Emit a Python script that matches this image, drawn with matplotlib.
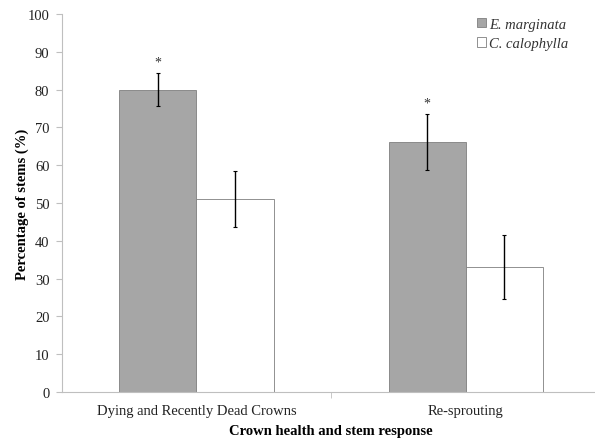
import numpy as np
import matplotlib
matplotlib.use("Agg")
from matplotlib import pyplot as plt

plt.rcParams['font.family'] = ['Liberation Serif', 'DejaVu Serif']

categories = ["Dying and Recently Dead Crowns", "Re-sprouting"]
marginata = [80, 66]
marginata_err = [4.4, 7.4]
calophylla = [51, 33]
calophylla_err = [7.5, 8.5]
stars = ["*", "*"]

x = np.arange(len(categories))
w = 0.286

fig = plt.figure(figsize=(5.95, 4.39), dpi=100)
ax = fig.add_axes([0.104, 0.105, 0.905, 0.861])

ax.bar(x - w/2, marginata, w, color="#a6a6a6", edgecolor="#7f7f7f", linewidth=0.6,
       yerr=marginata_err, capsize=1.5, error_kw=dict(ecolor="black", elinewidth=1.0, capthick=0.8),
       label="E. marginata")
ax.bar(x + w/2, calophylla, w, color="white", edgecolor="#7f7f7f", linewidth=0.6,
       yerr=calophylla_err, capsize=1.5, error_kw=dict(ecolor="black", elinewidth=1.0, capthick=0.8),
       label="C. calophylla")

for xi, v, e, s in zip(x, marginata, marginata_err, stars):
    ax.text(xi - w/2, v + e + 1.2, s, ha="center", va="bottom", fontsize=10, color="#333333")

ax.set_xlim(-0.5, 1.5)
ax.set_ylim(0, 100)
ax.set_yticks(np.arange(0, 101, 10))
ax.set_xticks(x)
ax.set_xticklabels(categories, fontsize=10.5, color="#222222")
ax.set_xticks([0.5, 1.5], minor=True)
ax.tick_params(axis="x", which="major", length=0, pad=9)
ax.tick_params(axis="x", which="minor", length=4, color="#bfbfbf")
ax.tick_params(axis="y", labelsize=10.5, colors="#222222", length=4, color="#bfbfbf", pad=5)

for sp in ["top", "right"]:
    ax.spines[sp].set_visible(False)
for sp in ["left", "bottom"]:
    ax.spines[sp].set_color("#bfbfbf")

ax.set_xlabel("Crown health and stem response", fontsize=10.5, fontweight="bold", labelpad=5)
ax.set_ylabel("Percentage of stems (%)", fontsize=10.5, fontweight="bold", labelpad=-1)

leg = ax.legend(loc="upper right", bbox_to_anchor=(0.965, 1.025), frameon=False,
                prop=dict(family="Liberation Serif", style="italic", size=10.5),
                handlelength=0.6, handleheight=0.6, handletextpad=0.2, labelspacing=0.45)
for t in leg.get_texts():
    t.set_color("#333333")

fig.savefig("out.png", dpi=100)
